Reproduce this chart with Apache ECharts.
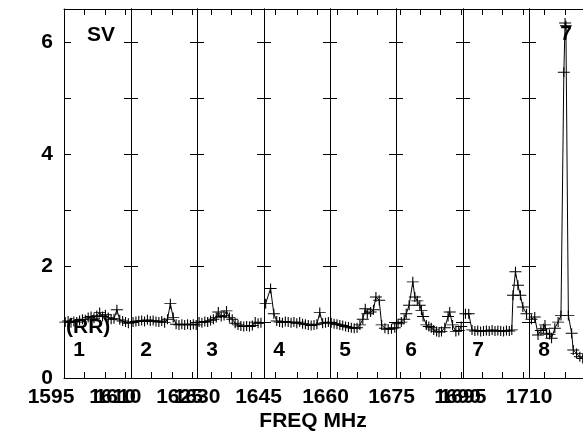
<!DOCTYPE html>
<html>
<head>
<meta charset="utf-8">
<script src="https://cdn.jsdelivr.net/npm/echarts@6/dist/echarts.min.js"></script>
<style>
  html, body { margin: 0; background: #fff; }
  #chart { width: 583px; height: 432px; }
</style>
</head>
<body>
<div id="chart"></div>
<script>
// panel x ranges (MHz), tick marks and labels
var panelStarts = [1595, 1610, 1630, 1645, 1660, 1675, 1695, 1710];
var panelTicks = [
    [1595, 1600, 1605, 1610],
    [1610, 1615, 1620, 1625],
    [1633.4, 1638.3, 1643.2],
    [1647.8, 1653, 1657.9],
    [1661.7, 1666.6, 1671.5],
    [1676, 1681, 1685.9, 1690.9],
    [1695, 1699.8, 1704.6, 1709.6],
    [1713.8, 1718.9, 1723.9]
];
var panelLabels = [
    [1595, 1610], [1610, 1625], [1630, 1645], [1660],
    [1675], [1690], [1695], [1710]
];
var panelNames = ['1', '2', '3', '4', '5', '6', '7', '8'];
var yMax = 6.6;
var yLabelValues = [0, 2, 4, 6];

// SV (RR) spectra: [freq MHz, value]
var sv1 = [[1595.3,1.00],[1596.0,1.02],[1596.7,0.99],[1597.4,1.01],[1598.1,1.00],[1598.8,1.03],
    [1599.5,1.05],[1600.2,1.04],[1600.9,1.08],[1601.6,1.10],[1602.3,1.07],[1603.0,1.12],
    [1603.7,1.17],[1604.4,1.10],[1605.1,1.13],[1605.8,1.08],[1606.5,1.05],[1607.2,1.06],
    [1607.9,1.22],[1608.6,1.04],[1609.3,1.02],[1610.0,1.00],[1610.7,0.98]];
var sv2 = [[1610.5,1.00],[1611.2,1.01],[1611.9,1.02],[1612.6,1.03],[1613.3,1.01],[1614.0,1.04],
    [1614.7,1.02],[1615.4,1.03],[1616.1,1.01],[1616.8,1.00],[1617.5,1.02],[1618.2,0.99],
    [1618.9,1.05],[1619.6,1.33],[1620.3,1.08],[1621.0,0.96],[1621.7,0.95],[1622.4,0.96],
    [1623.1,0.95],[1623.8,0.96],[1624.5,0.95],[1625.2,0.96],[1625.9,0.95]];
var sv3 = [[1630.5,1.00],[1631.2,0.99],[1631.9,1.01],[1632.6,1.00],[1633.3,1.03],[1634.0,1.05],
    [1634.7,1.08],[1635.2,1.18],[1635.9,1.10],[1636.6,1.12],[1637.2,1.20],[1637.9,1.08],
    [1638.6,1.05],[1639.3,0.98],[1640.0,0.95],[1640.7,0.93],[1641.4,0.92],[1642.1,0.93],
    [1642.8,0.92],[1643.5,0.94],[1644.2,1.00],[1644.9,0.98],[1645.6,0.99]];
var sv4 = [[1645.4,1.33],[1646.6,1.60],[1647.4,1.15],[1648.1,1.02],[1648.8,1.00],[1649.5,0.99],
    [1650.2,1.01],[1650.9,1.00],[1651.6,0.99],[1652.3,1.00],[1653.0,0.98],[1653.7,1.00],
    [1654.4,0.97],[1655.1,0.96],[1655.8,0.95],[1656.5,0.94],[1657.2,0.95],[1657.9,0.96],
    [1658.6,1.17],[1659.3,0.98],[1660.0,0.99],[1660.7,1.00]];
var sv5 = [[1660.3,0.99],[1661.0,0.97],[1661.7,0.96],[1662.4,0.95],[1663.1,0.94],[1663.8,0.92],
    [1664.5,0.91],[1665.2,0.90],[1665.9,0.89],[1666.6,0.90],[1667.3,0.95],[1668.0,1.05],
    [1668.6,1.24],[1669.1,1.15],[1669.9,1.18],[1670.6,1.22],[1671.2,1.45],[1672.0,1.39],
    [1672.6,0.95],[1673.4,0.89],[1674.2,0.87],[1675.0,0.88],[1675.8,0.90]];
var sv6 = [[1675.5,0.97],[1676.3,1.00],[1677.0,1.05],[1677.5,1.15],[1678.2,1.30],[1679.1,1.72],
    [1679.6,1.45],[1680.2,1.38],[1680.8,1.30],[1681.2,1.21],[1681.6,1.10],[1682.4,0.95],
    [1683.0,0.92],[1683.6,0.90],[1684.2,0.86],[1684.9,0.83],[1685.5,0.82],[1686.1,0.83],
    [1686.9,0.90],[1687.7,1.10],[1688.1,1.18],[1688.8,0.95],[1689.6,0.83],[1690.3,0.85],
    [1690.9,0.92]];
var sv7 = [[1695.6,1.15],[1696.4,1.15],[1697.2,0.86],[1697.9,0.84],[1698.6,0.85],[1699.3,0.83],
    [1700.0,0.84],[1700.7,0.85],[1701.4,0.84],[1702.1,0.86],[1702.8,0.84],[1703.5,0.85],
    [1704.2,0.84],[1704.9,0.83],[1705.6,0.85],[1706.3,0.84],[1706.9,0.86],[1707.2,1.48],
    [1707.8,1.90],[1708.4,1.66],[1709.0,1.48],[1709.6,1.27],[1710.5,1.15]];
var sv8 = [[1710.6,1.05],[1711.4,1.09],[1712.2,0.77],[1712.9,0.85],[1713.5,0.88],[1713.9,0.95],
    [1714.3,0.80],[1715.0,0.78],[1715.5,0.71],[1716.3,0.89],[1717.1,1.00],[1717.8,1.12],
    [1718.5,5.47],[1718.8,6.35],[1719.0,6.30],[1719.6,1.12],[1720.4,0.80],[1720.8,0.50],
    [1721.6,0.44],[1722.4,0.38],[1723.1,0.35],[1723.8,0.33]];
var panelData = [sv1, sv2, sv3, sv4, sv5, sv6, sv7, sv8];

var FONT = '"Liberation Sans", Arial, sans-serif';
var plotLeft = 64.3, panelW = 66.4, plotTop = 9, plotH = 369, canvasW = 583;
var pxPerMHz = 4.1;
var cross = 'path://M0,5L10,5M5,0L5,10';

var chart = echarts.init(document.getElementById('chart'), null, {renderer: 'canvas'});
var grids = [], xAxes = [], yAxes = [], series = [], graphics = [];

function plain(v) { return String(v); }

for (var i = 0; i < 8; i++) {
    var left = Math.round(plotLeft + i * panelW);
    var right = Math.min(Math.round(plotLeft + (i + 1) * panelW), canvasW);
    var last = (i === 7);
    var xMax = panelStarts[i] + (right - left) / pxPerMHz;
    grids.push({left: left, top: plotTop, width: right - left, height: plotH});
    var shift = i < 2 ? [0, 26, 0, 0] : 0;
    xAxes.push({
        type: 'value', gridIndex: i, position: 'bottom',
        min: panelStarts[i], max: xMax,
        splitLine: {show: false},
        axisLine: {show: true, onZero: false, lineStyle: {color: '#000', width: 1}},
        axisTick: {show: true, inside: true, length: 6, customValues: panelTicks[i], lineStyle: {color: '#000'}},
        axisLabel: {show: true, customValues: panelLabels[i], formatter: plain, margin: 9, padding: shift,
            color: '#000', fontFamily: FONT, fontWeight: 'bold', fontSize: 21}
    });
    xAxes.push({
        type: 'value', gridIndex: i, position: 'top',
        min: panelStarts[i], max: xMax,
        splitLine: {show: false},
        axisLine: {show: true, onZero: false, lineStyle: {color: '#000', width: 1}},
        axisTick: {show: true, inside: true, length: 6, customValues: panelTicks[i], lineStyle: {color: '#000'}},
        axisLabel: {show: false}
    });
    yAxes.push({
        type: 'value', gridIndex: i, position: 'left', min: 0, max: yMax, interval: 1,
        splitLine: {show: false},
        axisLine: {show: true, onZero: false, lineStyle: {color: '#000', width: 1}},
        axisTick: {show: true, inside: true, length: 7, lineStyle: {color: '#000'}},
        axisLabel: {show: i === 0, customValues: yLabelValues, formatter: plain, margin: 11,
            color: '#000', fontFamily: FONT, fontWeight: 'bold', fontSize: 21}
    });
    yAxes.push({
        type: 'value', gridIndex: i, position: 'right', min: 0, max: yMax, interval: 1,
        splitLine: {show: false},
        axisLine: {show: !last, onZero: false, lineStyle: {color: '#000', width: 1}},
        axisTick: {show: !last, inside: true, length: 7, lineStyle: {color: '#000'}},
        axisLabel: {show: false}
    });
    series.push({
        type: 'line', name: 'panel' + (i + 1),
        xAxisIndex: i * 2, yAxisIndex: i * 2,
        data: panelData[i],
        symbol: cross, symbolSize: [12, 10], showSymbol: true, showAllSymbol: true,
        itemStyle: {color: '#000', borderColor: '#000', borderWidth: 1},
        lineStyle: {color: '#000', width: 1},
        clip: true, animation: false, silent: true
    });
    graphics.push({
        type: 'text', x: left + 15, y: 350,
        style: {text: panelNames[i], font: 'bold 21px ' + FONT, fill: '#000',
            textAlign: 'center', textVerticalAlign: 'middle'}
    });
}

graphics.push({type: 'text', x: 87, y: 35,
    style: {text: 'SV', font: 'bold 21px ' + FONT, fill: '#000', textVerticalAlign: 'middle'}});
graphics.push({type: 'text', x: 66, y: 327,
    style: {text: '(RR)', font: 'bold 21px ' + FONT, fill: '#000', textVerticalAlign: 'middle'}});
graphics.push({type: 'text', x: 566, y: 34,
    style: {text: '7', font: 'bold 21px ' + FONT, fill: '#000', textAlign: 'center', textVerticalAlign: 'middle'}});
graphics.push({type: 'text', x: 313, y: 421,
    style: {text: 'FREQ MHz', font: 'bold 21px ' + FONT, fill: '#000', textAlign: 'center', textVerticalAlign: 'middle'}});

chart.setOption({
    animation: false,
    backgroundColor: '#fff',
    grid: grids,
    xAxis: xAxes,
    yAxis: yAxes,
    series: series,
    graphic: graphics
});
</script>
</body>
</html>
